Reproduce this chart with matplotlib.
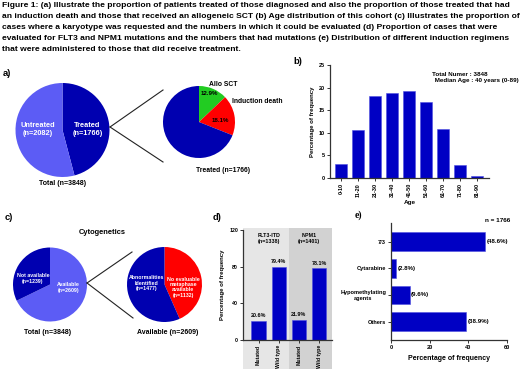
import matplotlib
matplotlib.use("Agg")
import matplotlib.pyplot as plt
from matplotlib.lines import Line2D
from matplotlib.patches import Rectangle
from matplotlib.transforms import blended_transform_factory

plt.rcParams['font.family'] = ['Liberation Sans', 'DejaVu Sans']
plt.rcParams['font.weight'] = 'bold'
plt.rcParams['axes.labelweight'] = 'bold'

W, H = 520, 371

caption = [
    "Figure 1: (a) Illustrate the proportion of patients treated of those diagnosed and also the proportion of those treated that had",
    "an induction death and those that received an allogeneic SCT (b) Age distribution of this cohort (c) Illustrates the proportion of",
    "cases where a karyotype was requested and the numbers in which it could be evaluated (d) Proportion of cases that were",
    "evaluated for FLT3 and NPM1 mutations and the numbers that had mutations (e) Distribution of different induction regimens",
    "that were administered to those that did receive treatment.",
]

# (a) treated vs untreated, outcome of treated
treat_labels = ["Treated", "Untreated"]
treat_n = [1766, 2082]
outcome_labels = ["Allo SCT", "Induction death", "Other"]
outcome_pct = [12.9, 18.1, 69.0]

# (b) age distribution
age_groups = ["0-10", "11-20", "21-30", "31-40", "41-50", "51-60", "61-70", "71-80", "81-90"]
age_pct = [3.2, 10.6, 18.1, 18.7, 19.3, 16.9, 10.8, 2.9, 0.5]

# (c) cytogenetics
cyto_labels = ["Available", "Not available"]
cyto_n = [2609, 1239]
avail_labels = ["No evaluable\nmetaphase\navailable", "Abnormalities\nIdentified"]
avail_n = [1132, 1477]

# (d) mutations
mut_genes = ["FLT3-ITD", "NPM1"]
mut_tested = [1338, 1401]
mut_status = ["Mutated", "Wild type"]
mut_pct = [[20.6, 79.4], [21.9, 78.1]]

# (e) induction regimens
regimens = ["7/3", "Cytarabine", "Hypomethylating\nagents", "Others"]
regimen_pct = [48.6, 2.8, 9.6, 38.9]

DARK = '#0000B0'
LIGHT = '#5C5CF5'
BAR = '#0000C4'
RED = '#FF0000'
GREEN = '#22CC22'
SPINE = '#333333'

fig = plt.figure(figsize=(W / 100, H / 100), dpi=100)


def px_axes(x0, y0, x1, y1):
    return fig.add_axes([x0 / W, 1 - y1 / H, (x1 - x0) / W, (y1 - y0) / H])


def ftext(x, y, s, **kw):
    fig.text(x / W, 1 - y / H, s, **kw)


def fline(x0, y0, x1, y1):
    fig.add_artist(Line2D([x0 / W, x1 / W], [1 - y0 / H, 1 - y1 / H], color='#222222', lw=0.8))


def pie_at(cx, cy, r, vals, colors):
    ax = px_axes(cx - r, cy - r, cx + r, cy + r)
    ax.pie(vals, colors=colors, startangle=90, counterclock=False, radius=1,
           wedgeprops=dict(linewidth=0))
    ax.set_xlim(-1, 1)
    ax.set_ylim(-1, 1)
    return ax


def prism_axes(ax, fs=4.0):
    for s in ['top', 'right']:
        ax.spines[s].set_visible(False)
    for s in ['left', 'bottom']:
        ax.spines[s].set_color(SPINE)
        ax.spines[s].set_linewidth(0.9)
    ax.tick_params(direction='out', length=2, width=0.7, color=SPINE, labelsize=fs, pad=1.5)


# caption
for i, line in enumerate(caption):
    ftext(2, 5.5 + 11 * i, line, fontsize=6.1, va='center', ha='left')

# ---- (a)
ftext(3, 73, "a)", fontsize=6.8, va='center')
ax = pie_at(62.5, 130, 47, treat_n, [DARK, LIGHT])
ax.text(0.53, 0.02, f"{treat_labels[0]}\n(n={treat_n[0]})", color='white', fontsize=5.3,
        ha='center', va='center')
ax.text(-0.53, 0.02, f"{treat_labels[1]}\n(n={treat_n[1]})", color='white', fontsize=5.3,
        ha='center', va='center')
ftext(63, 183, f"Total (n={sum(treat_n)})", fontsize=5.0, ha='center', va='center')

ax = pie_at(199, 122, 36, outcome_pct, [GREEN, RED, DARK])
ax.text(0.28, 0.78, f"{outcome_pct[0]}%", fontsize=4.4, ha='center', va='center')
ax.text(0.58, 0.05, f"{outcome_pct[1]}%", fontsize=4.4, ha='center', va='center')
ax.text(0.67, 1.05, outcome_labels[0], fontsize=4.9, ha='center', va='center', clip_on=False)
ax.text(0.92, 0.56, outcome_labels[1], fontsize=4.9, ha='left', va='center', clip_on=False)
ftext(223, 170, f"Treated (n={treat_n[0]})", fontsize=4.9, ha='center', va='center')

fline(110, 127, 163, 90)
fline(110, 127, 163, 162)

# ---- (b)
ftext(293, 62, "b)", fontsize=6.8, va='center')
ax = px_axes(330, 65, 489, 178)
ax.bar(range(len(age_pct)), age_pct, width=0.7, color=BAR, edgecolor='#5050E0', linewidth=0.4)
ax.set_xlim(-0.65, 8.7)
ax.set_ylim(0, 25)
ax.set_yticks(range(0, 26, 5))
ax.set_xticks(range(len(age_groups)))
ax.set_xticklabels(age_groups, rotation=90)
prism_axes(ax)
ax.set_ylabel("Percentage of frequency", fontsize=4.3, labelpad=3)
ax.set_xlabel("Age", fontsize=4.6, labelpad=2)
ftext(432, 74, "Total Numer : 3848", fontsize=4.5, va='center')
ftext(433, 80.5, " Median Age : 40 years (0-89)", fontsize=4.5, va='center')

# ---- (c)
ftext(5, 218, "c)", fontsize=6.8, va='center')
ftext(102, 233, "Cytogenetics", fontsize=5.4, ha='center', va='center')
ax = pie_at(50, 284.5, 37, cyto_n, [LIGHT, DARK])
ax.text(0.49, -0.08, f"{cyto_labels[0]}\n(n={cyto_n[0]})", color='white', fontsize=3.8,
        ha='center', va='center')
ax.text(-0.46, 0.16, f"{cyto_labels[1]}\n(n={cyto_n[1]})", color='white', fontsize=3.8,
        ha='center', va='center')
ftext(48, 332, f"Total (n={sum(cyto_n)})", fontsize=5.0, ha='center', va='center')

ax = pie_at(164.5, 284.5, 37.5, avail_n, [RED, DARK])
ax.text(0.5, -0.07, f"{avail_labels[0]}\n(n={avail_n[0]})", color='white', fontsize=3.8,
        ha='center', va='center', linespacing=1.1)
ax.text(-0.49, 0.03, f"{avail_labels[1]}\n(n={avail_n[1]})", color='white', fontsize=3.8,
        ha='center', va='center', linespacing=1.1)
ftext(168, 332, f"Available (n={sum(avail_n)})", fontsize=5.0, ha='center', va='center')

fline(87, 283, 132, 252)
fline(87, 283, 133, 318)

# ---- (d)
ftext(213, 218, "d)", fontsize=6.8, va='center')
ax = px_axes(243, 230, 332, 340)
ax.patch.set_visible(False)
xlim = (-0.77, 3.64)
tr = blended_transform_factory(ax.transData, fig.transFigure)
for x0, x1, c in [(xlim[0], 1.5, '#E6E6E6'), (1.5, xlim[1], '#D2D2D2')]:
    ax.add_patch(Rectangle((x0, 1 - 369 / H), x1 - x0, (369 - 228) / H, transform=tr,
                           facecolor=c, edgecolor='none', zorder=0, clip_on=False))
xs = []
hs = []
for g in range(len(mut_genes)):
    for k in range(len(mut_status)):
        xs.append(g * 2 + k)
        hs.append(mut_pct[g][k])
ax.bar(xs, hs, width=0.7, color=BAR, edgecolor='#5050E0', linewidth=0.4, zorder=2)
for x, h in zip(xs, hs):
    ax.text(x, h + 3, f"{h}%", fontsize=3.9, ha='center', va='bottom')
for g in range(len(mut_genes)):
    ax.text(g * 2 + 0.5, 117, f"{mut_genes[g]}\n(n={mut_tested[g]})", fontsize=3.9,
            ha='center', va='top')
ax.set_xlim(*xlim)
ax.set_ylim(0, 120)
ax.set_yticks([0, 40, 80, 120])
ax.set_xticks(xs)
ax.set_xticklabels(mut_status * len(mut_genes), rotation=90)
prism_axes(ax, fs=3.7)
ax.set_ylabel("Percentage of frequency", fontsize=4.3, labelpad=3)

# ---- (e)
ftext(355, 215, "e)", fontsize=7, va='center', family='Liberation Serif')
ftext(498, 221, f"n = {treat_n[0]}", fontsize=4.6, ha='center', va='center')
ax = px_axes(391, 223, 507, 340)
ys = range(len(regimens))
ax.barh(ys, regimen_pct, height=0.7, color=BAR, edgecolor='#5050E0', linewidth=0.4)
for y, p in zip(ys, regimen_pct):
    ax.text(p + 0.8, y, f"({p}%)", fontsize=4.4, ha='left', va='center')
ax.set_ylim(3.69, -0.7)
ax.set_xlim(0, 60)
ax.set_xticks([0, 20, 40, 60])
ax.set_yticks(list(ys))
ax.set_yticklabels(regimens, multialignment='center')
prism_axes(ax, fs=4.1)
ax.set_xlabel("Percentage of frequency", fontsize=5.0, labelpad=4)

fig.savefig("out.png", dpi=100)
